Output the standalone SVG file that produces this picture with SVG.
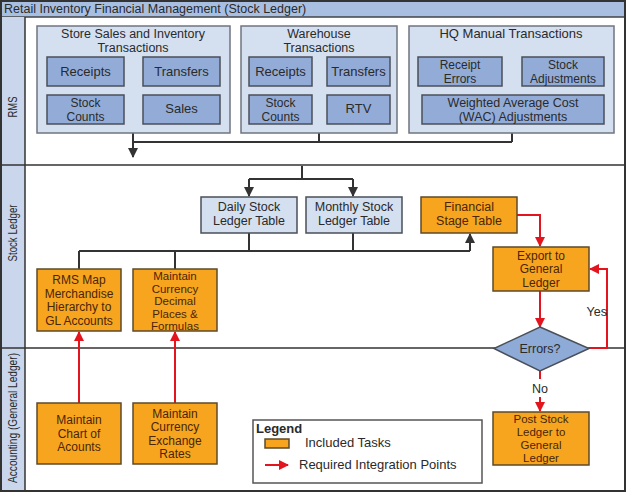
<svg xmlns="http://www.w3.org/2000/svg" width="628" height="493" viewBox="0 0 628 493">
<style>
text{font-family:"Liberation Sans",Arial,sans-serif;font-size:12px;text-anchor:middle;fill:#2a2a2a}
.grp{fill:#d4dff0;stroke:#6f7680;stroke-width:1.5}
.inb{fill:#93acd7;stroke:#4a4f58;stroke-width:1.5}
.tbl{fill:#d4dff0;stroke:#4a4f58;stroke-width:1.5}
.org{fill:#f7a51f;stroke:#5e4a2a;stroke-width:1.5}
.ot{fill:#4a2608}
.b13{font-size:13px}
.s115{font-size:11.5px}
.dk{fill:none;stroke:#333;stroke-width:2}
.rd{fill:none;stroke:#e3141e;stroke-width:2}
.lane{font-size:12px}
</style>
<defs>
<marker id="ad" viewBox="0 0 10 10" refX="9" refY="5" markerWidth="10" markerHeight="10" markerUnits="userSpaceOnUse" orient="auto"><path d="M0,0 L10,5 L0,10 z" fill="#333"/></marker>
<marker id="ar" viewBox="0 0 10 10" refX="9" refY="5" markerWidth="10" markerHeight="10" markerUnits="userSpaceOnUse" orient="auto"><path d="M0,0 L10,5 L0,10 z" fill="#e3141e"/></marker>
</defs>
<rect x="0" y="0" width="628" height="493" fill="#fff"/>
<g id="frame">
<rect x="1" y="1" width="624" height="16" fill="#a9bfe1" stroke="#444" stroke-width="1.5"/>
<text x="4" y="13" style="text-anchor:start;font-size:12.5px" fill="#222">Retail Inventory Financial Management (Stock Ledger)</text>
<rect x="1" y="17" width="24" height="474" fill="#c9d6ec"/>
<rect x="1" y="1" width="624" height="490" fill="none" stroke="#333" stroke-width="2"/>
<line x1="25" y1="17" x2="25" y2="491" stroke="#333" stroke-width="1.5"/>
<line x1="1" y1="165" x2="625" y2="165" stroke="#333" stroke-width="1.5"/>
<line x1="1" y1="348" x2="625" y2="348" stroke="#333" stroke-width="1.5"/>
<text class="lane" transform="translate(17,107) rotate(-90)" textLength="21" lengthAdjust="spacingAndGlyphs">RMS</text>
<text class="lane" transform="translate(17,233) rotate(-90)" textLength="57" lengthAdjust="spacingAndGlyphs">Stock Ledger</text>
<text class="lane" transform="translate(17,418) rotate(-90)" textLength="130" lengthAdjust="spacingAndGlyphs">Accounting (General Ledger)</text>
</g>
<g id="connectors">
<path class="dk" d="M133,133 V142 M319,133 V142 M512,133 V142 M133,142 H512"/>
<path class="dk" d="M133,142 V157" marker-end="url(#ad)"/>
<path class="dk" d="M302,166 V179 M249,179 H353"/>
<path class="dk" d="M249,179 V196" marker-end="url(#ad)"/>
<path class="dk" d="M353,179 V196" marker-end="url(#ad)"/>
<path class="dk" d="M249,233 V251 M353,233 V251 M79,251 H470 M79,251 V269 M175,251 V269"/>
<path class="dk" d="M470,251 V234" marker-end="url(#ad)"/>
<path class="rd" d="M517,215 H540 V246" marker-end="url(#ar)"/>
<path class="rd" d="M540,291 V327" marker-end="url(#ar)"/>
<path class="rd" d="M589,348 H607 V269 H590" marker-end="url(#ar)"/>
<path class="rd" d="M540,371 V379"/>
<path class="rd" d="M540,397 V411" marker-end="url(#ar)"/>
<path class="rd" d="M79,403 V332" marker-end="url(#ar)"/>
<path class="rd" d="M175,403 V332" marker-end="url(#ar)"/>
<text x="607" y="316" style="text-anchor:end;font-size:12.5px">Yes</text>
<text x="540" y="393" style="font-size:12.5px">No</text>
</g>
<g id="store">
<rect class="grp" x="37" y="26" width="193" height="107"/>
<text x="133" y="38" style="font-size:12.5px">Store Sales and Inventory<tspan x="133" dy="14">Transactions</tspan></text>
</g>
<g id="store-receipts"><rect class="inb" x="47" y="57" width="77" height="29"/><text class="b13" x="85.5" y="76">Receipts</text></g>
<g id="store-transfers"><rect class="inb" x="143" y="57" width="77" height="29"/><text class="b13" x="181.5" y="76">Transfers</text></g>
<g id="store-counts"><rect class="inb" x="47" y="95" width="77" height="29"/><text x="85.5" y="107">Stock<tspan x="85.5" dy="13.5">Counts</tspan></text></g>
<g id="store-sales"><rect class="inb" x="143" y="95" width="77" height="29"/><text class="b13" x="181.5" y="113">Sales</text></g>
<g id="warehouse">
<rect class="grp" x="241" y="26" width="156" height="107"/>
<text x="319" y="38" style="font-size:12.5px">Warehouse<tspan x="319" dy="14">Transactions</tspan></text>
</g>
<g id="wh-receipts"><rect class="inb" x="249" y="57" width="63" height="29"/><text class="b13" x="280.5" y="76">Receipts</text></g>
<g id="wh-transfers"><rect class="inb" x="327" y="57" width="63" height="29"/><text class="b13" x="358.5" y="76">Transfers</text></g>
<g id="wh-counts"><rect class="inb" x="249" y="95" width="63" height="29"/><text x="280.5" y="107">Stock<tspan x="280.5" dy="13.5">Counts</tspan></text></g>
<g id="wh-rtv"><rect class="inb" x="327" y="95" width="63" height="29"/><text class="b13" x="358.5" y="113">RTV</text></g>
<g id="hq">
<rect class="grp" x="409" y="26" width="205" height="107"/>
<text class="b13" x="511" y="38">HQ Manual Transactions</text>
</g>
<g id="hq-errors"><rect class="inb" x="418" y="57" width="84" height="29"/><text x="460" y="69">Receipt<tspan x="460" dy="13.5">Errors</tspan></text></g>
<g id="hq-adj"><rect class="inb" x="522" y="57" width="82" height="29"/><text x="563" y="69">Stock<tspan x="563" dy="13.5">Adjustments</tspan></text></g>
<g id="hq-wac"><rect class="inb" x="422" y="95" width="182" height="29"/><text x="513" y="107" style="font-size:12.5px">Weighted Average Cost<tspan x="513" dy="13.5">(WAC) Adjustments</tspan></text></g>
<g id="daily"><rect class="tbl" x="201" y="197" width="96" height="36"/><text x="249" y="211" style="font-size:12.5px">Daily Stock<tspan x="249" dy="14">Ledger Table</tspan></text></g>
<g id="monthly"><rect class="tbl" x="306" y="197" width="96" height="36"/><text x="354" y="211" style="font-size:12.5px">Monthly Stock<tspan x="354" dy="14">Ledger Table</tspan></text></g>
<g id="financial"><rect class="org" x="421" y="197" width="96" height="36"/><text class="ot" x="469" y="211" style="font-size:12.5px">Financial<tspan x="469" dy="14">Stage Table</tspan></text></g>
<g id="export"><rect class="org" x="493" y="247" width="96" height="44"/><text class="ot" x="541" y="259.5">Export to<tspan x="541" dy="13.5">General</tspan><tspan x="541" dy="13.5">Ledger</tspan></text></g>
<g id="errors"><path d="M540,327 L589,348.5 L540,371 L494,348.5 z" fill="#8eaad6" stroke="#4a4f58" stroke-width="1.5"/><text x="540" y="353" style="font-size:12.5px">Errors?</text></g>
<g id="post"><rect class="org" x="493" y="412" width="96" height="53"/><text class="ot s115" x="541" y="423">Post Stock<tspan x="541" dy="13">Ledger to</tspan><tspan x="541" dy="13">General</tspan><tspan x="541" dy="13">Ledger</tspan></text></g>
<g id="rmsmap"><rect class="org" x="37" y="269" width="84" height="62"/><text class="ot" x="79" y="284">RMS Map<tspan x="79" dy="13.5">Merchandise</tspan><tspan x="79" dy="13.5">Hierarchy to</tspan><tspan x="79" dy="13.5">GL Accounts</tspan></text></g>
<g id="decimal"><rect class="org" x="133" y="269" width="84" height="62"/><text class="ot s115" x="175" y="280">Maintain<tspan x="175" dy="12.6">Currency</tspan><tspan x="175" dy="12.6">Decimal</tspan><tspan x="175" dy="12.6">Places &amp;</tspan><tspan x="175" dy="12.6">Formulas</tspan></text></g>
<g id="chart"><rect class="org" x="37" y="403" width="84" height="61"/><text class="ot" x="79" y="424">Maintain<tspan x="79" dy="13.5">Chart of</tspan><tspan x="79" dy="13.5">Acounts</tspan></text></g>
<g id="exchange"><rect class="org" x="133" y="403" width="84" height="61"/><text class="ot" x="175" y="417.5">Maintain<tspan x="175" dy="13.5">Currency</tspan><tspan x="175" dy="13.5">Exchange</tspan><tspan x="175" dy="13.5">Rates</tspan></text></g>
<g id="legend">
<rect x="253" y="420" width="229" height="63" fill="#fff" stroke="#555" stroke-width="1.5"/>
<text class="b13" x="256" y="433" style="text-anchor:start;font-weight:bold" fill="#111">Legend</text>
<rect class="org" x="265" y="439" width="24" height="9"/>
<text class="b13" x="305" y="447" style="text-anchor:start">Included Tasks</text>
<path class="rd" d="M265,465 H288" marker-end="url(#ar)"/>
<text class="b13" x="299" y="469" style="text-anchor:start">Required Integration Points</text>
</g>
</svg>
